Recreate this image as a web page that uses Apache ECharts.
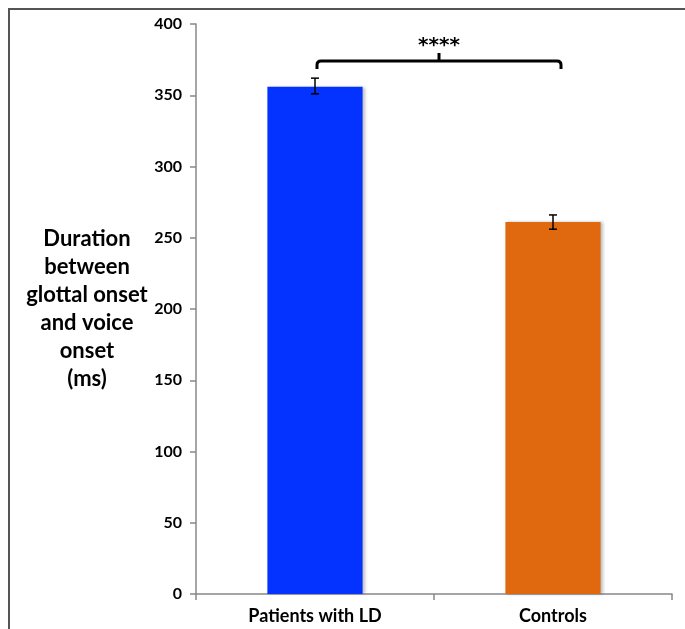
<!DOCTYPE html>
<html>
<head>
<meta charset="utf-8">
<script src="https://cdn.jsdelivr.net/npm/echarts@6/dist/echarts.min.js"></script>
<style>
  html, body { margin: 0; padding: 0; background: #fff; }
  #frame { position: absolute; left: 8px; top: 8px; width: 677px; height: 621px;
           border-left: 2px solid #555; border-top: 2px solid #555; box-sizing: border-box; }
  #main { position: absolute; left: 0; top: 0; width: 685px; height: 629px; }
</style>
</head>
<body>
<div id="frame"></div>
<div id="main"></div>
<script>
// groups and means (ms)
var groups = ['Patients with LD', 'Controls'];
var means = [356, 261];
var errLow = [351, 256];
var errHigh = [362, 266];
var barColors = ['#0433FF', '#E0690F'];
// significance bracket between the two groups
var bracketLevel = 374;
var bracketLabel = '****';
var yTicks = { min: 0, max: 400, step: 50 };

var chart = echarts.init(document.getElementById('main'));

chart.setOption({
  animation: false,
  grid: { left: 196, right: 13, top: 24, bottom: 35 },
  xAxis: {
    type: 'category',
    data: groups,
    axisLine: { lineStyle: { color: '#888', width: 1.5 } },
    axisTick: { show: true, length: 6, lineStyle: { color: '#888', width: 1.5 } },
    axisLabel: { color: '#000', fontWeight: 'bold', fontSize: 18, fontFamily: 'Lato', margin: 13 }
  },
  yAxis: {
    type: 'value',
    min: yTicks.min, max: yTicks.max, interval: yTicks.step,
    name: 'Duration\nbetween\nglottal onset\nand voice\nonset\n(ms)',
    nameLocation: 'middle',
    nameRotate: 0,
    nameGap: 109,
    nameTextStyle: { color: '#000', fontWeight: 'bold', fontSize: 22, fontFamily: 'Lato',
                     lineHeight: 28, align: 'center', padding: [66, 0, 0, 0] },
    splitLine: { show: false },
    axisLine: { show: true, lineStyle: { color: '#888', width: 1.5 } },
    axisTick: { show: true, length: 6, lineStyle: { color: '#888', width: 1.5 } },
    axisLabel: { color: '#000', fontWeight: 'bold', fontSize: 16, fontFamily: 'Lato', margin: 14 }
  },
  series: [
    {
      type: 'bar',
      barWidth: '40%',
      data: means.map(function (v, i) {
        return { value: v, itemStyle: { color: barColors[i] } };
      }),
      itemStyle: { shadowColor: 'rgba(0,0,0,0.25)', shadowBlur: 3, shadowOffsetX: 2 }
    },
    {
      type: 'custom',
      z: 5,
      data: groups.map(function (g, i) { return [i, errLow[i], errHigh[i]]; }),
      renderItem: function (params, api) {
        var lo = api.coord([api.value(0), api.value(1)]);
        var hi = api.coord([api.value(0), api.value(2)]);
        var c = 4;
        var st = { stroke: '#000', lineWidth: 1.5 };
        return { type: 'group', children: [
          { type: 'line', shape: { x1: lo[0], y1: lo[1], x2: hi[0], y2: hi[1] }, style: st },
          { type: 'line', shape: { x1: lo[0] - c, y1: lo[1], x2: lo[0] + c, y2: lo[1] }, style: st },
          { type: 'line', shape: { x1: hi[0] - c, y1: hi[1], x2: hi[0] + c, y2: hi[1] }, style: st }
        ] };
      }
    },
    {
      type: 'custom',
      z: 5,
      data: [[0, 1, bracketLevel]],
      renderItem: function (params, api) {
        var a = api.coord([api.value(0), api.value(2)]);
        var b = api.coord([api.value(1), api.value(2)]);
        var y = a[1], x1 = a[0] + 2, x2 = b[0] + 8, mid = (x1 + x2) / 2;
        var d = 8, r = 4;
        var path = 'M' + x1 + ' ' + (y + d) + ' L' + x1 + ' ' + (y + r) +
          ' Q' + x1 + ' ' + y + ' ' + (x1 + r) + ' ' + y +
          ' L' + (x2 - r) + ' ' + y +
          ' Q' + x2 + ' ' + y + ' ' + x2 + ' ' + (y + r) +
          ' L' + x2 + ' ' + (y + d) +
          ' M' + mid + ' ' + y + ' L' + mid + ' ' + (y - 8);
        return { type: 'group', children: [
          { type: 'path', shape: { pathData: path },
            style: { stroke: '#000', lineWidth: 3, fill: null } },
          { type: 'text', x: mid, y: y - 15,
            style: { text: bracketLabel, fill: '#000', font: 'bold 20px "DejaVu Sans"',
                     align: 'center', verticalAlign: 'middle' } }
        ] };
      }
    }
  ]
});
</script>
</body>
</html>
